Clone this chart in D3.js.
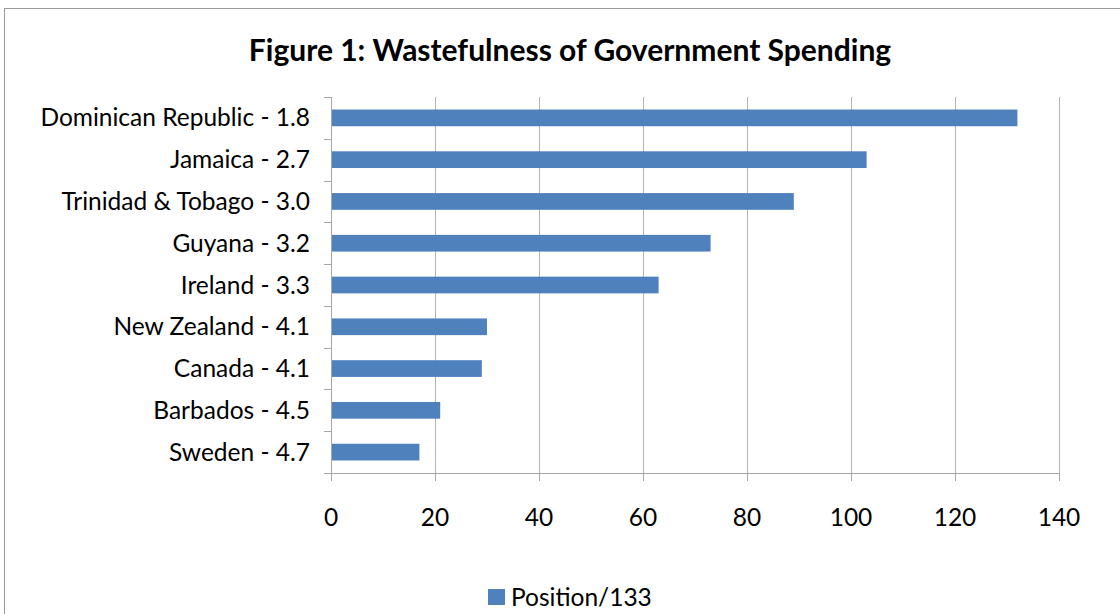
<!DOCTYPE html>
<html>
<head>
<meta charset="utf-8">
<script src="https://cdn.jsdelivr.net/npm/d3@7"></script>
<style>
  html, body { margin: 0; padding: 0; background: #fff; }
  svg { display: block; }
</style>
</head>
<body>
<svg id="chart" width="1120" height="614"></svg>
<script>
// Country labels (with score) and their rank out of 133
const categories = [
  "Dominican Republic - 1.8",
  "Jamaica - 2.7",
  "Trinidad & Tobago - 3.0",
  "Guyana - 3.2",
  "Ireland - 3.3",
  "New Zealand - 4.1",
  "Canada - 4.1",
  "Barbados - 4.5",
  "Sweden - 4.7"
];
const positions = [132, 103, 89, 73, 63, 30, 29, 21, 17];
const xTicks = [0, 20, 40, 60, 80, 100, 120, 140];
const seriesName = "Position/133";
const titleText = "Figure 1: Wastefulness of Government Spending";

const fontFamily = "Lato, 'Open Sans', sans-serif";
const barColor = "#4f81bd";
const gridColor = "#b3b3b3";
const axisColor = "#a6a6a6";

const svg = d3.select("#chart");

// Chart area frame
svg.append("rect")
  .attr("x", 4.5).attr("y", 8.5)
  .attr("width", 1130).attr("height", 620)
  .attr("fill", "none").attr("stroke", "#9a9a9a").attr("stroke-width", 1);

const plot = { left: 331, right: 1059, top: 97, bottom: 473 };

const x = d3.scaleLinear().domain([0, 140]).range([plot.left, plot.right]);
const y = d3.scaleBand().domain(categories).range([plot.top, plot.bottom]).paddingInner(0.6).paddingOuter(0.3);
const yBand = d3.scaleBand().domain(categories).range([plot.top, plot.bottom]);

// Title
svg.append("text")
  .attr("x", 570).attr("y", 61)
  .attr("text-anchor", "middle")
  .attr("font-family", fontFamily)
  .attr("font-weight", "bold")
  .attr("font-size", 30)
  .attr("fill", "#000")
  .text(titleText);

// Vertical gridlines
svg.append("g").selectAll("line")
  .data(xTicks.slice(1))
  .join("line")
  .attr("x1", d => x(d) + 0.5).attr("x2", d => x(d) + 0.5)
  .attr("y1", plot.top).attr("y2", plot.bottom)
  .attr("stroke", gridColor).attr("stroke-width", 1);

// Bars
svg.append("g").selectAll("rect")
  .data(categories.map((c, i) => ({ c, v: positions[i] })))
  .join("rect")
  .attr("x", x(0))
  .attr("y", d => y(d.c))
  .attr("width", d => x(d.v) - x(0))
  .attr("height", y.bandwidth())
  .attr("fill", barColor);

// Category axis (left)
const yAxisG = svg.append("g");
yAxisG.append("line")
  .attr("x1", plot.left + 0.5).attr("x2", plot.left + 0.5)
  .attr("y1", plot.top).attr("y2", plot.bottom)
  .attr("stroke", axisColor);
const bounds = categories.map(c => yBand(c)).concat([plot.bottom]);
yAxisG.selectAll("line.tick")
  .data(bounds)
  .join("line")
  .attr("class", "tick")
  .attr("x1", plot.left - 7).attr("x2", plot.left)
  .attr("y1", d => Math.round(d) + 0.5).attr("y2", d => Math.round(d) + 0.5)
  .attr("stroke", axisColor);
yAxisG.selectAll("text")
  .data(categories)
  .join("text")
  .attr("x", plot.left - 21)
  .attr("y", d => yBand(d) + yBand.bandwidth() / 2)
  .attr("dy", "0.35em")
  .attr("text-anchor", "end")
  .attr("font-family", fontFamily)
  .attr("font-size", 24.5)
  .attr("fill", "#000")
  .text(d => d);

// Value axis (bottom)
const xAxisG = svg.append("g");
xAxisG.append("line")
  .attr("x1", plot.left - 7).attr("x2", plot.right)
  .attr("y1", plot.bottom + 0.5).attr("y2", plot.bottom + 0.5)
  .attr("stroke", axisColor);
xAxisG.selectAll("line.tick")
  .data(xTicks)
  .join("line")
  .attr("class", "tick")
  .attr("x1", d => x(d) + 0.5).attr("x2", d => x(d) + 0.5)
  .attr("y1", plot.bottom).attr("y2", plot.bottom + 8)
  .attr("stroke", axisColor);
xAxisG.selectAll("text")
  .data(xTicks)
  .join("text")
  .attr("x", d => x(d))
  .attr("y", 526)
  .attr("text-anchor", "middle")
  .attr("font-family", fontFamily)
  .attr("font-size", 24.5)
  .attr("fill", "#000")
  .text(d => d);

// Legend
const legend = svg.append("g");
legend.append("rect")
  .attr("x", 488).attr("y", 589)
  .attr("width", 17).attr("height", 16)
  .attr("fill", barColor);
legend.append("text")
  .attr("x", 511).attr("y", 606)
  .attr("font-family", fontFamily)
  .attr("font-size", 24.5)
  .attr("fill", "#000")
  .text(seriesName);
</script>
</body>
</html>
